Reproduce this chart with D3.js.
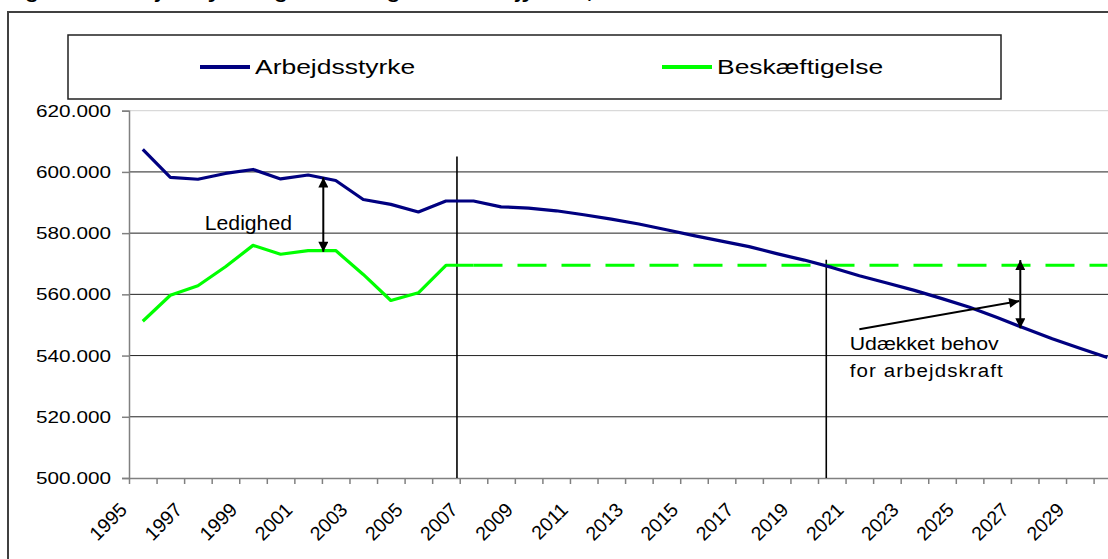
<!DOCTYPE html>
<html><head><meta charset="utf-8">
<script src="https://cdn.jsdelivr.net/npm/d3@7"></script>
<style>
html,body{margin:0;padding:0;background:#fff;overflow:hidden}
text{font-family:Arial,"Liberation Sans",sans-serif;fill:#000}
</style></head>
<body>
<svg id="chart" width="1108" height="559"></svg>
<script>
// ---- data ----
const title = "Figur 3.2 Arbejdsstyrke og beskæftigelse i Nordjylland, 1995-2030";
const years = d3.range(1995, 2031);
const tickLabelYears = d3.range(1995, 2031, 2);
const yTicks = [500000, 520000, 540000, 560000, 580000, 600000, 620000];
const seriesNames = ["Arbejdsstyrke", "Beskæftigelse"];
const arbejdsstyrke = [607400, 598200, 597600, 599500, 600800, 597700, 599000, 597200, 591000, 589400, 586900, 590500,
  590500, 588600, 588200, 587300, 586000, 584600, 583000, 581100, 579200, 577400, 575600, 573300, 571200, 568800,
  566100, 563700, 561300, 558600, 555800, 552400, 548900, 545500, 542400, 539400];
const beskaeftigelse = [551200, 559700, 562800, 569000, 576000, 573100, 574300, 574300, 566500, 558000, 560500, 569500, 569500];
const beskaeftigelseFremskrevet = d3.range(2007, 2031).map(() => 569500);
const markerYears = [2006.4, 2019.8];
const markerTops = [605000, 571300];
const ledighedArrow = {year: 2001.55, from: 598200, to: 573900};
const udaekketArrow = {year: 2026.84, from: 571200, to: 548900};
const pointer = {year0: 2021.0, v0: 548600, year1: 2026.8, v1: 557800};
const annotations = [
  {text: "Ledighed", year: 1997.25, value: 581000, size: 20, sx: 1.06, ls: 0},
  {text: "Udækket behov", year: 2020.65, value: 541700, size: 19, sx: 1.12, ls: 0},
  {text: "for arbejdskraft", year: 2020.65, value: 532900, size: 19, sx: 1.08, ls: 1}
];

// ---- layout ----
const svg = d3.select("#chart");
const M = {left: 129, top: 110.7, bottom: 478};
const bandW = 27.56;
const x = d3.scaleBand().domain(years).range([M.left, M.left + years.length * bandW]).padding(0);
const xc = d => x(d) + x.bandwidth() / 2;
const xLin = d3.scaleLinear().domain([1995, 2030]).range([xc(1995), xc(2030)]);
const y = d3.scaleLinear().domain([500000, 620000]).range([M.bottom, M.top]);
const fmt = d3.formatLocale({decimal: ",", thousands: ".", grouping: [3], currency: ["", " kr"]}).format(",");

// title (cut off at top, as in the reference)
svg.append("text").attr("x", 4).attr("y", -2).style("font-weight", "bold").style("font-size", "18px")
  .attr("transform", "scale(1.25,1)").text(title);

// outer frame
svg.append("rect").attr("x", 8).attr("y", 12).attr("width", 1300).attr("height", 800)
  .attr("fill", "#fff").attr("stroke", "#404040").attr("stroke-width", 2);

// plot top border
svg.append("line").attr("x1", M.left).attr("x2", 1200).attr("y1", y(620000)).attr("y2", y(620000))
  .attr("stroke", "#d0d0d0").attr("stroke-width", 1);

// gridlines
svg.append("g").selectAll("line").data(yTicks.filter(v => v > 500000 && v < 620000)).join("line")
  .attr("x1", M.left).attr("x2", 1200).attr("y1", d => y(d)).attr("y2", d => y(d))
  .attr("stroke", "#202020").attr("stroke-width", 1);

// y axis
const yAxis = svg.append("g").attr("transform", `translate(${M.left},0)`)
  .call(d3.axisLeft(y).tickValues(yTicks).tickSize(7).tickFormat(""));
yAxis.selectAll("line,path").attr("stroke", "#808080").attr("stroke-width", 1.5);
svg.append("g").selectAll("text").data(yTicks).join("text")
  .attr("transform", d => `translate(${M.left - 18},${y(d)}) scale(1.22,1)`)
  .attr("text-anchor", "end").attr("dy", "0.36em").style("font-size", "17px")
  .text(d => fmt(d));

// x axis (ticks at category boundaries)
const boundaries = d3.range(1995, 2032).map(v => v - 0.5);
const xAxis = svg.append("g").attr("transform", `translate(0,${M.bottom})`)
  .call(d3.axisBottom(xLin).tickValues(boundaries).tickSize(6).tickFormat("").tickSizeOuter(0));
xAxis.select("path").attr("d", `M${M.left},0.5H1200`);
xAxis.selectAll("line,path").attr("stroke", "#808080").attr("stroke-width", 1.5);
svg.append("g").selectAll("text").data(tickLabelYears).join("text")
  .attr("transform", d => `translate(${xc(d) - 14.5},${M.bottom + 33}) rotate(-45)`)
  .attr("text-anchor", "end").style("font-size", "19.5px").text(d => d);

// vertical marker lines
svg.append("g").selectAll("line").data(markerYears).join("line")
  .attr("x1", d => xLin(d)).attr("x2", d => xLin(d))
  .attr("y1", (d, i) => y(markerTops[i])).attr("y2", M.bottom)
  .attr("stroke", "#000").attr("stroke-width", 1.6);

// series lines
const line = d3.line().x(d => d[0]).y(d => d[1]);
const toPts = (arr, start) => arr.map((v, i) => [xc(start + i), y(v)]);
svg.append("path").attr("d", line(toPts(beskaeftigelseFremskrevet, 2007))).attr("fill", "none")
  .attr("stroke", "#00ff00").attr("stroke-width", 3.2).attr("stroke-dasharray", "29,15");
svg.append("path").attr("d", line(toPts(beskaeftigelse, 1995))).attr("fill", "none")
  .attr("stroke", "#00ff00").attr("stroke-width", 3.2).attr("stroke-linejoin", "round");
svg.append("path").attr("d", line(toPts(arbejdsstyrke, 1995))).attr("fill", "none")
  .attr("stroke", "#000080").attr("stroke-width", 3.2).attr("stroke-linejoin", "round");

// arrow marker
const defs = svg.append("defs");
defs.append("marker").attr("id", "ah").attr("viewBox", "0 0 10 10").attr("refX", 10).attr("refY", 5)
  .attr("markerUnits", "userSpaceOnUse").attr("markerWidth", 11).attr("markerHeight", 10)
  .attr("orient", "auto-start-reverse")
  .append("path").attr("d", "M0,0L10,5L0,10Z").attr("fill", "#000");

[ledighedArrow, udaekketArrow].forEach(a => {
  svg.append("line").attr("x1", xLin(a.year)).attr("x2", xLin(a.year))
    .attr("y1", y(a.from)).attr("y2", y(a.to)).attr("stroke", "#000").attr("stroke-width", 2)
    .attr("marker-start", "url(#ah)").attr("marker-end", "url(#ah)");
});
svg.append("line").attr("x1", xLin(pointer.year0)).attr("y1", y(pointer.v0))
  .attr("x2", xLin(pointer.year1)).attr("y2", y(pointer.v1))
  .attr("stroke", "#000").attr("stroke-width", 2).attr("marker-end", "url(#ah)");

// annotation texts
svg.append("g").selectAll("text").data(annotations).join("text")
  .attr("transform", d => `translate(${xLin(d.year)},${y(d.value)}) scale(${d.sx},1)`)
  .style("font-size", d => d.size + "px").style("letter-spacing", d => d.ls + "px").text(d => d.text);

// legend
const lg = svg.append("g");
lg.append("rect").attr("x", 68).attr("y", 35).attr("width", 933).attr("height", 64)
  .attr("fill", "#fff").attr("stroke", "#202020").attr("stroke-width", 1.5);
const legendItems = [
  {name: seriesNames[0], color: "#000080", x: 200},
  {name: seriesNames[1], color: "#00ff00", x: 662}
];
legendItems.forEach(it => {
  lg.append("line").attr("x1", it.x).attr("x2", it.x + 50).attr("y1", 67).attr("y2", 67)
    .attr("stroke", it.color).attr("stroke-width", 4);
  lg.append("text").attr("transform", `translate(${it.x + 55},74) scale(1.26,1)`)
    .style("font-size", "21px").text(it.name);
});
</script>
</body></html>
